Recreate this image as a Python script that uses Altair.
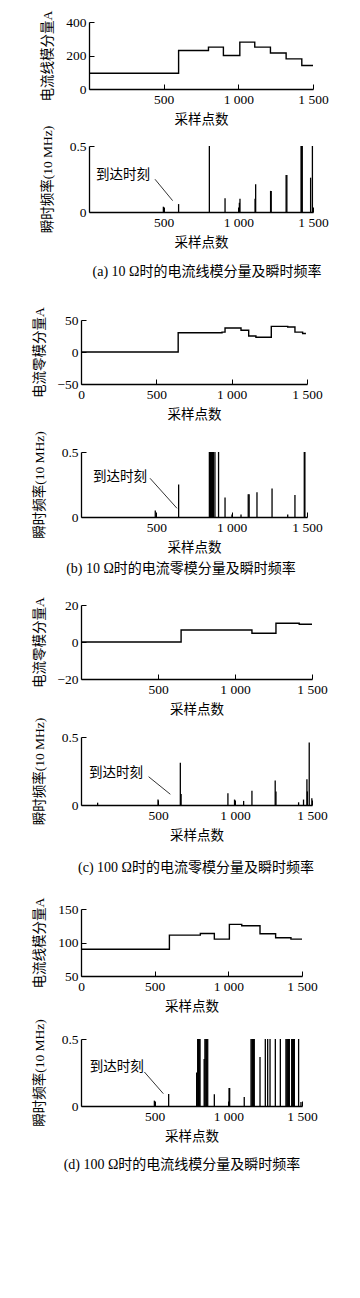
import altair as alt
import pandas as pd

SERIF = "Liberation Serif"
MIX = "Liberation Serif, Noto Sans CJK SC"
CJK = "Noto Sans CJK SC"

# ---------------- data ----------------
# (a) 10 Ω line-mode current (A) step series
a_step_x = [0, 600, 800, 900, 1010, 1110, 1215, 1320, 1425, 1500]
a_step_y = [94, 230, 250, 200, 280, 250, 215, 180, 140, 140]
# (a) instantaneous frequency spikes
a_spk_x = [498, 600, 806, 911, 1007, 1011, 1112, 1116, 1216, 1220, 1320, 1325, 1420, 1424, 1428, 1484, 1496]
a_spk_y = [0.04, 0.06, 0.5, 0.105, 0.07, 0.1, 0.1, 0.21, 0.16, 0.16, 0.28, 0.28, 0.5, 0.5, 0.5, 0.26, 0.5]

# (b) 10 Ω zero-mode current (A)
b_step_x = [0, 645, 936, 956, 1062, 1113, 1161, 1263, 1372, 1420, 1471, 1493]
b_step_y = [0, 30, 31, 37.5, 34, 25, 23, 40, 39, 31, 29, 29]
b_spk_x = [493, 648, 852, 856, 860, 864, 868, 872, 876, 879, 889, 913, 956, 1002, 1062, 1110, 1116, 1168, 1268, 1372, 1420, 1482, 1486]
b_spk_y = [0.05, 0.25, 0.5, 0.5, 0.5, 0.5, 0.5, 0.5, 0.5, 0.5, 0.5, 0.5, 0.15, 0.02, 0.02, 0.175, 0.175, 0.19, 0.22, 0.02, 0.17, 0.5, 0.5]

# (c) 100 Ω zero-mode current (A)
c_step_x = [0, 650, 1110, 1266, 1417, 1500]
c_step_y = [0, 6.5, 4.7, 10.1, 9.6, 9.6]
c_spk_x = [108, 500, 645, 650, 954, 997, 1056, 1110, 1261, 1266, 1413, 1445, 1467, 1470, 1482, 1499]
c_spk_y = [0.017, 0.04, 0.31, 0.08, 0.086, 0.04, 0.03, 0.105, 0.18, 0.1, 0.02, 0.04, 0.19, 0.1, 0.46, 0.05]

# (d) 100 Ω line-mode current (A)
d_step_x = [0, 600, 810, 905, 1007, 1091, 1215, 1321, 1425, 1500]
d_step_y = [90, 111, 113.5, 105, 127, 125, 113, 107, 105, 105]
d_spk_x = [498, 595, 785, 792, 797, 803, 808, 836, 841, 847, 853, 860, 905, 1005, 1009, 1108,
           1154, 1160, 1165, 1171, 1176, 1215, 1251, 1267, 1283, 1319, 1353,
           1391, 1397, 1403, 1409, 1414, 1430, 1436, 1442, 1448, 1477, 1493]
d_spk_y = [0.04, 0.09, 0.25, 0.5, 0.5, 0.5, 0.5, 0.35, 0.5, 0.5, 0.5, 0.5, 0.087, 0.134, 0.134, 0.067,
           0.5, 0.5, 0.5, 0.5, 0.5, 0.365, 0.5, 0.5, 0.5, 0.5, 0.5,
           0.5, 0.5, 0.5, 0.5, 0.5, 0.5, 0.5, 0.5, 0.5, 0.5, 0.03]

# annotation "到达时刻": text position and leader line (data coordinates)
ann_text = "到达时刻"
ann_tx = [228, 259, 227, 243]
ann_ty = [0.28, 0.31, 0.237, 0.29]
ann_lx1 = [442, 458, 439, 430]
ann_ly1 = [0.248, 0.298, 0.208, 0.254]
ann_lx2 = [560, 637, 580, 559]
ann_ly2 = [0.086, 0.067, 0.079, 0.092]

captions = [
    "(a) 10 Ω时的电流线模分量及瞬时频率",
    "(b) 10 Ω时的电流零模分量及瞬时频率",
    "(c) 100 Ω时的电流零模分量及瞬时频率",
    "(d) 100 Ω时的电流线模分量及瞬时频率",
]
top_titles = ["电流线模分量A", "电流零模分量A", "电流零模分量A", "电流线模分量A"]
freq_title = "瞬时频率(10 MHz)"
x_title = "采样点数"

top_ydom = [[0, 400], [-50, 50], [-20, 20], [50, 150]]
top_yticks = [[0, 200, 400], [-50, 0, 50], [-20, 0, 20], [50, 100, 150]]
freq_ydom = [0, 0.5]
freq_yticks = [0, 0.5]
xt_full = [0, 500, 1000, 1500]
xt_part = [500, 1000, 1500]
top_xticks = [xt_part, xt_full, xt_part, xt_full]

# ---------------- layout (pixels) ----------------
W = [232, 226, 231, 221]          # plot widths
XR = [[8, 232], [0, 226], [0, 231], [0, 221]]  # x ranges
YOFF = [-8, 0, 0, 0]
TOP_H = [67, 64, 74, 67]
FREQ_H = [66, 65, 68, 67]
GAP1 = [57, 68, 58, 63]           # between top and freq panels
CAP_H = [108, 88, 104, 70]        # caption block heights
CAP_Y = [60, 52, 63, 59]
CAP_X = [126, 100, 115, 101]

XLBL = "replace(format(datum.value, ','), ',', ' ')"
YLBL = "format(datum.value, '~r')"
NOFRAME = alt.ViewBackground(strokeWidth=0, strokeOpacity=0)


def x_enc(field, i, ticks):
    r = XR[i]
    return alt.X(
        field, type="quantitative",
        scale=alt.Scale(domain=[0, 1500], range=r, nice=False, zero=False),
        axis=alt.Axis(
            values=ticks, labelExpr=XLBL, labelFlush=False, labelOverlap=False,
            labelFont=SERIF, labelFontSize=13.5, labelColor="black", labelPadding=8,
            tickSize={"expr": "-5"}, tickColor="black", tickWidth=1,
            domainColor="black", domainWidth=1.3, grid=False,
            title=x_title, titleFont=CJK, titleFontSize=13.5, titleFontWeight="normal",
            titleColor="black", titleX=(r[0] + r[1]) / 2, titleY=30,
            titleAlign="center", titleBaseline="middle",
        ),
    )


def y_enc(field, i, dom, ticks, title, h):
    return alt.Y(
        field, type="quantitative",
        scale=alt.Scale(domain=dom, nice=False, zero=False),
        axis=alt.Axis(
            values=ticks, labelExpr=YLBL, labelFlush=False, labelOverlap=False,
            labelFont=SERIF, labelFontSize=13.5, labelColor="black", labelPadding=8,
            tickSize={"expr": "-5"}, tickColor="black", tickWidth=1,
            domainColor="black", domainWidth=1.3, grid=False, offset=YOFF[i],
            title=title, titleFont=MIX, titleFontSize=13.5, titleFontWeight="normal",
            titleColor="black", titleX=-42, titleY=h / 2, titleAngle=270,
            titleAlign="center", titleBaseline="middle",
        ),
    )


def top_panel(i, xs, ys):
    df = pd.DataFrame({"x": xs, "y": ys})
    h = TOP_H[i]
    return alt.Chart(df).mark_line(
        interpolate="step-after", color="black", strokeWidth=1.4
    ).encode(
        x=x_enc("x", i, top_xticks[i]),
        y=y_enc("y", i, top_ydom[i], top_yticks[i], top_titles[i], h),
    ).properties(width=W[i], height=h, view=NOFRAME)


def freq_panel(i, xs, ys):
    h = FREQ_H[i]
    df = pd.DataFrame({"x": xs, "v": ys})
    spikes = alt.Chart(df).mark_rule(color="black", strokeWidth=1.3).encode(
        x=x_enc("x", i, xt_part),
        y=y_enc("v", i, freq_ydom, freq_yticks, freq_title, h),
        y2=alt.datum(0),
    )
    tdf = pd.DataFrame({"x": [ann_tx[i]], "v": [ann_ty[i]], "t": [ann_text]})
    txt = alt.Chart(tdf).mark_text(
        font=CJK, fontSize=13.5, color="black", align="center", baseline="middle"
    ).encode(x=x_enc("x", i, xt_part), y=y_enc("v", i, freq_ydom, freq_yticks, freq_title, h), text="t:N")
    ldf = pd.DataFrame({"x": [ann_lx1[i]], "v": [ann_ly1[i]], "x2": [ann_lx2[i]], "v2": [ann_ly2[i]]})
    lead = alt.Chart(ldf).mark_rule(color="black", strokeWidth=0.8).encode(
        x=x_enc("x", i, xt_part), y=y_enc("v", i, freq_ydom, freq_yticks, freq_title, h),
        x2="x2:Q", y2="v2:Q",
    )
    return alt.layer(spikes, txt, lead).properties(width=W[i], height=h, view=NOFRAME)


def spacer(h, w=221):
    df = pd.DataFrame({"t": [""]})
    return alt.Chart(df).mark_text().encode(
        x=alt.value(0), y=alt.value(0), text="t:N"
    ).properties(width=w, height=h, view=NOFRAME)


def caption(i):
    df = pd.DataFrame({"t": [captions[i]]})
    return alt.Chart(df).mark_text(
        font=MIX, fontSize=14, color="black", align="center", baseline="middle"
    ).encode(
        x=alt.value(CAP_X[i]), y=alt.value(CAP_Y[i]), text="t:N"
    ).properties(width=221, height=CAP_H[i], view=NOFRAME)


steps = [(a_step_x, a_step_y), (b_step_x, b_step_y), (c_step_x, c_step_y), (d_step_x, d_step_y)]
spks = [(a_spk_x, a_spk_y), (b_spk_x, b_spk_y), (c_spk_x, c_spk_y), (d_spk_x, d_spk_y)]

parts = []
for i in range(4):
    parts.append(top_panel(i, *steps[i]))
    parts.append(spacer(GAP1[i]))
    parts.append(freq_panel(i, *spks[i]))
    parts.append(caption(i))

chart = alt.vconcat(*parts, spacing=0, bounds="flush").properties(
    padding={"left": 24, "top": 2, "right": 5, "bottom": 5}
).configure_view(strokeWidth=0, strokeOpacity=0).configure(background="white")

chart.save("out.html", embed_options={"renderer": "svg", "actions": False})
